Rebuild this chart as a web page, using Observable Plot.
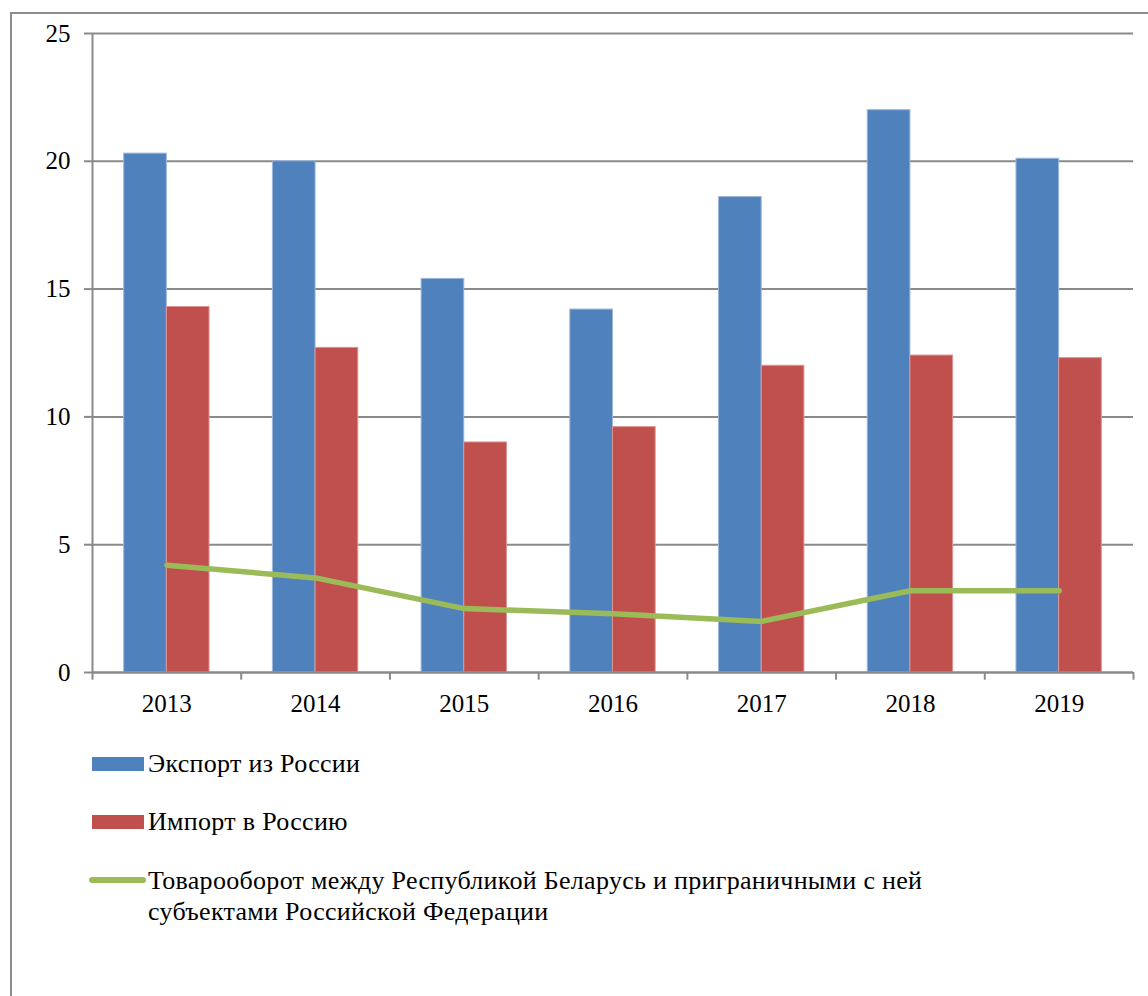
<!DOCTYPE html>
<html>
<head>
<meta charset="utf-8">
<script src="https://cdn.jsdelivr.net/npm/d3@7"></script>
<script src="https://cdn.jsdelivr.net/npm/@observablehq/plot@0.6"></script>
<style>
  html, body { margin: 0; padding: 0; background: #fff; overflow: hidden; width: 1148px; height: 996px; }
  #frame { position: absolute; left: 10px; top: 12px; width: 1200px; height: 1100px; border-left: 2px solid #8c8c8c; border-top: 2px solid #8c8c8c; }
  #chart { position: absolute; left: 0; top: 0; }
  .leg { position: absolute; font-family: "Liberation Serif", "Times New Roman", Times, "DejaVu Serif", serif; font-size: 26px; letter-spacing: 0.3px; color: #000; line-height: 31px; white-space: nowrap; }
  .sw { position: absolute; }
</style>
</head>
<body>
<div id="frame"></div>
<div id="chart"></div>
<div class="sw" id="sw1" style="left:92px; top:757px; width:52px; height:14px;"></div>
<div class="leg" id="lt1" style="left:148px; top:748px;"></div>
<div class="sw" id="sw2" style="left:92px; top:815px; width:52px; height:14px;"></div>
<div class="leg" id="lt2" style="left:148px; top:806px;"></div>
<div class="sw" id="sw3" style="left:89px; top:877px; width:57px; height:6px; border-radius:3px;"></div>
<div class="leg" id="lt3" style="left:148px; top:865px;"></div>
<script>
const years = ["2013", "2014", "2015", "2016", "2017", "2018", "2019"];
const exportVals = [20.3, 20.0, 15.4, 14.2, 18.6, 22.0, 20.1];
const importVals = [14.3, 12.7, 9.0, 9.6, 12.0, 12.4, 12.3];
const tradeVals = [4.2, 3.7, 2.5, 2.3, 2.0, 3.2, 3.2];
const yTicks = [0, 5, 10, 15, 20, 25];
const seriesNames = ["Экспорт из России", "Импорт в Россию", "Товарооборот между Республикой Беларусь и приграничными с ней\nсубъектами Российской Федерации"];
const colors = ["#4F81BD", "#C0504D", "#9BBB59"];

const data = years.map((year, i) => ({year, exp: exportVals[i], imp: importVals[i], trade: tradeVals[i]}));

const W = 1148, mL = 92, mR = 15;
const bw = (W - mL - mR) / years.length;
const gray = "#8a8a8a";
const serif = "'Liberation Serif', 'Times New Roman', Times, 'DejaVu Serif', serif";

const chart = Plot.plot({
  width: W,
  height: 720,
  marginLeft: mL,
  marginRight: mR,
  marginTop: 33,
  marginBottom: 48,
  style: {fontFamily: serif, fontSize: "25px", color: "#000", background: "transparent"},
  x: {type: "band", domain: years, padding: 0, round: false, tickSize: 0, tickPadding: 22, label: null},
  y: {domain: [0, 25], ticks: yTicks, tickSize: 8, tickPadding: 14, label: null, tickFormat: d => String(d)},
  marks: [
    Plot.ruleY(yTicks, {stroke: gray, strokeWidth: 2, strokeOpacity: 1}),
    Plot.ruleX([years[0]], {stroke: gray, strokeWidth: 2, dx: -bw / 2}),
    Plot.ruleX(years, {y1: 0, y2: -0.3, stroke: gray, strokeWidth: 2, dx: -bw / 2}),
    Plot.ruleX([years[years.length - 1]], {y1: 0, y2: -0.3, stroke: gray, strokeWidth: 2, dx: bw / 2}),
    Plot.barY(data, {x: "year", y: "exp", fill: colors[0], stroke: "#9db8da", strokeWidth: 1, insetLeft: 0.213 * bw, insetRight: 0.5 * bw}),
    Plot.barY(data, {x: "year", y: "imp", fill: colors[1], stroke: "#dc9492", strokeWidth: 1, insetLeft: 0.5 * bw, insetRight: 0.213 * bw}),
    Plot.ruleY([0], {stroke: gray, strokeWidth: 2}),
    Plot.line(data, {x: "year", y: "trade", stroke: colors[2], strokeWidth: 5.5, strokeLinecap: "round", strokeLinejoin: "round"})
  ]
});
chart.querySelectorAll("[aria-label='y-axis tick'] path, [aria-label='y-axis'] path").forEach(p => { p.setAttribute("stroke", gray); p.setAttribute("stroke-width", "2"); });
chart.querySelectorAll("text").forEach(t => t.style.fontFamily = serif);
document.getElementById("chart").appendChild(chart);

document.getElementById("sw1").style.background = colors[0];
document.getElementById("sw2").style.background = colors[1];
document.getElementById("sw3").style.background = colors[2];
document.getElementById("lt1").textContent = seriesNames[0];
document.getElementById("lt2").textContent = seriesNames[1];
const lt3 = document.getElementById("lt3");
seriesNames[2].split("\n").forEach((line, i) => { if (i) lt3.appendChild(document.createElement("br")); lt3.appendChild(document.createTextNode(line)); });
</script>
</body>
</html>
